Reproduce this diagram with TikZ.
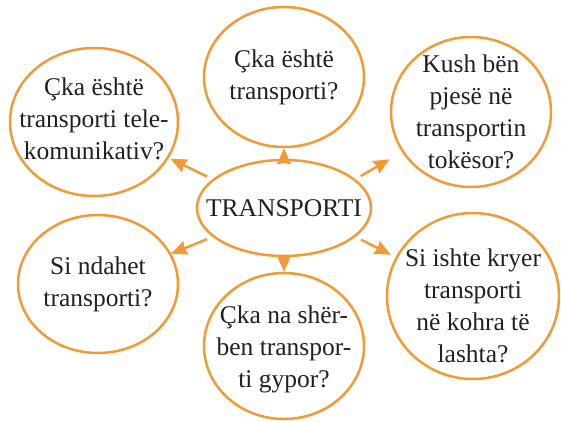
\documentclass[tikz,border=0pt]{standalone}
\usepackage{fontspec}
\setmainfont{Liberation Serif}
\usetikzlibrary{arrows.meta,shapes.geometric}
\definecolor{ringorange}{RGB}{242,154,54}
\definecolor{inkgray}{RGB}{35,31,32}
\tikzset{
  bubble/.style={draw=ringorange,ellipse,line width=2.5pt,inner sep=0pt},
  words/.style={align=center,text=inkgray,inner sep=0pt,font=\fontsize{25.5}{32}\selectfont},
  arrow/.style={-{Stealth[length=16pt,width=14pt,inset=1.5pt]},line width=2.5pt,draw=ringorange}
}
\begin{document}
\begin{tikzpicture}[x=1pt,y=-1pt]
\useasboundingbox (0,0) rectangle (561,421);
\node[bubble,minimum width=174pt,minimum height=96pt,label={[words]center:TRANSPORTI}] (trans) at (284,208) {};
\node[bubble,minimum width=160pt,minimum height=140pt,label={[words]center:Çka është\\transporti?}] (what) at (284,77) {};
\node[bubble,minimum width=168pt,minimum height=148pt,label={[words,yshift=3pt]center:Çka është\\transporti tele-\\komunikativ?}] (tele) at (94,122) {};
\node[bubble,minimum width=160pt,minimum height=150pt,label={[words]center:Kush bën\\pjesë në\\transportin\\tokësor?}] (land) at (471,112) {};
\node[bubble,minimum width=160pt,minimum height=138pt,label={[words]center:Si ndahet\\transporti?}] (split) at (98,284) {};
\node[bubble,minimum width=160pt,minimum height=146pt,label={[words,yshift=-3pt]center:Çka na shër-\\ben transpor-\\ti gypor?}] (pipe) at (284,346) {};
\node[bubble,minimum width=172pt,minimum height=166pt,label={[words,yshift=-10pt]center:Si ishte kryer\\transporti\\në kohra të\\lashta?}] (past) at (473,296) {};
\draw[arrow](trans.north)--(what.south);
\draw[arrow](trans.south)--(pipe.north);
\draw[arrow,shorten <=6pt,shorten >=85pt](trans.158)--(tele.center);
\draw[arrow,shorten <=6pt,shorten >=94pt](trans.22)--(land.center);
\draw[arrow,shorten <=6pt,shorten >=79pt](trans.202)--(split.center);
\draw[arrow,shorten <=6pt,shorten >=92pt](trans.338)--(past.center);
\end{tikzpicture}
\end{document}
